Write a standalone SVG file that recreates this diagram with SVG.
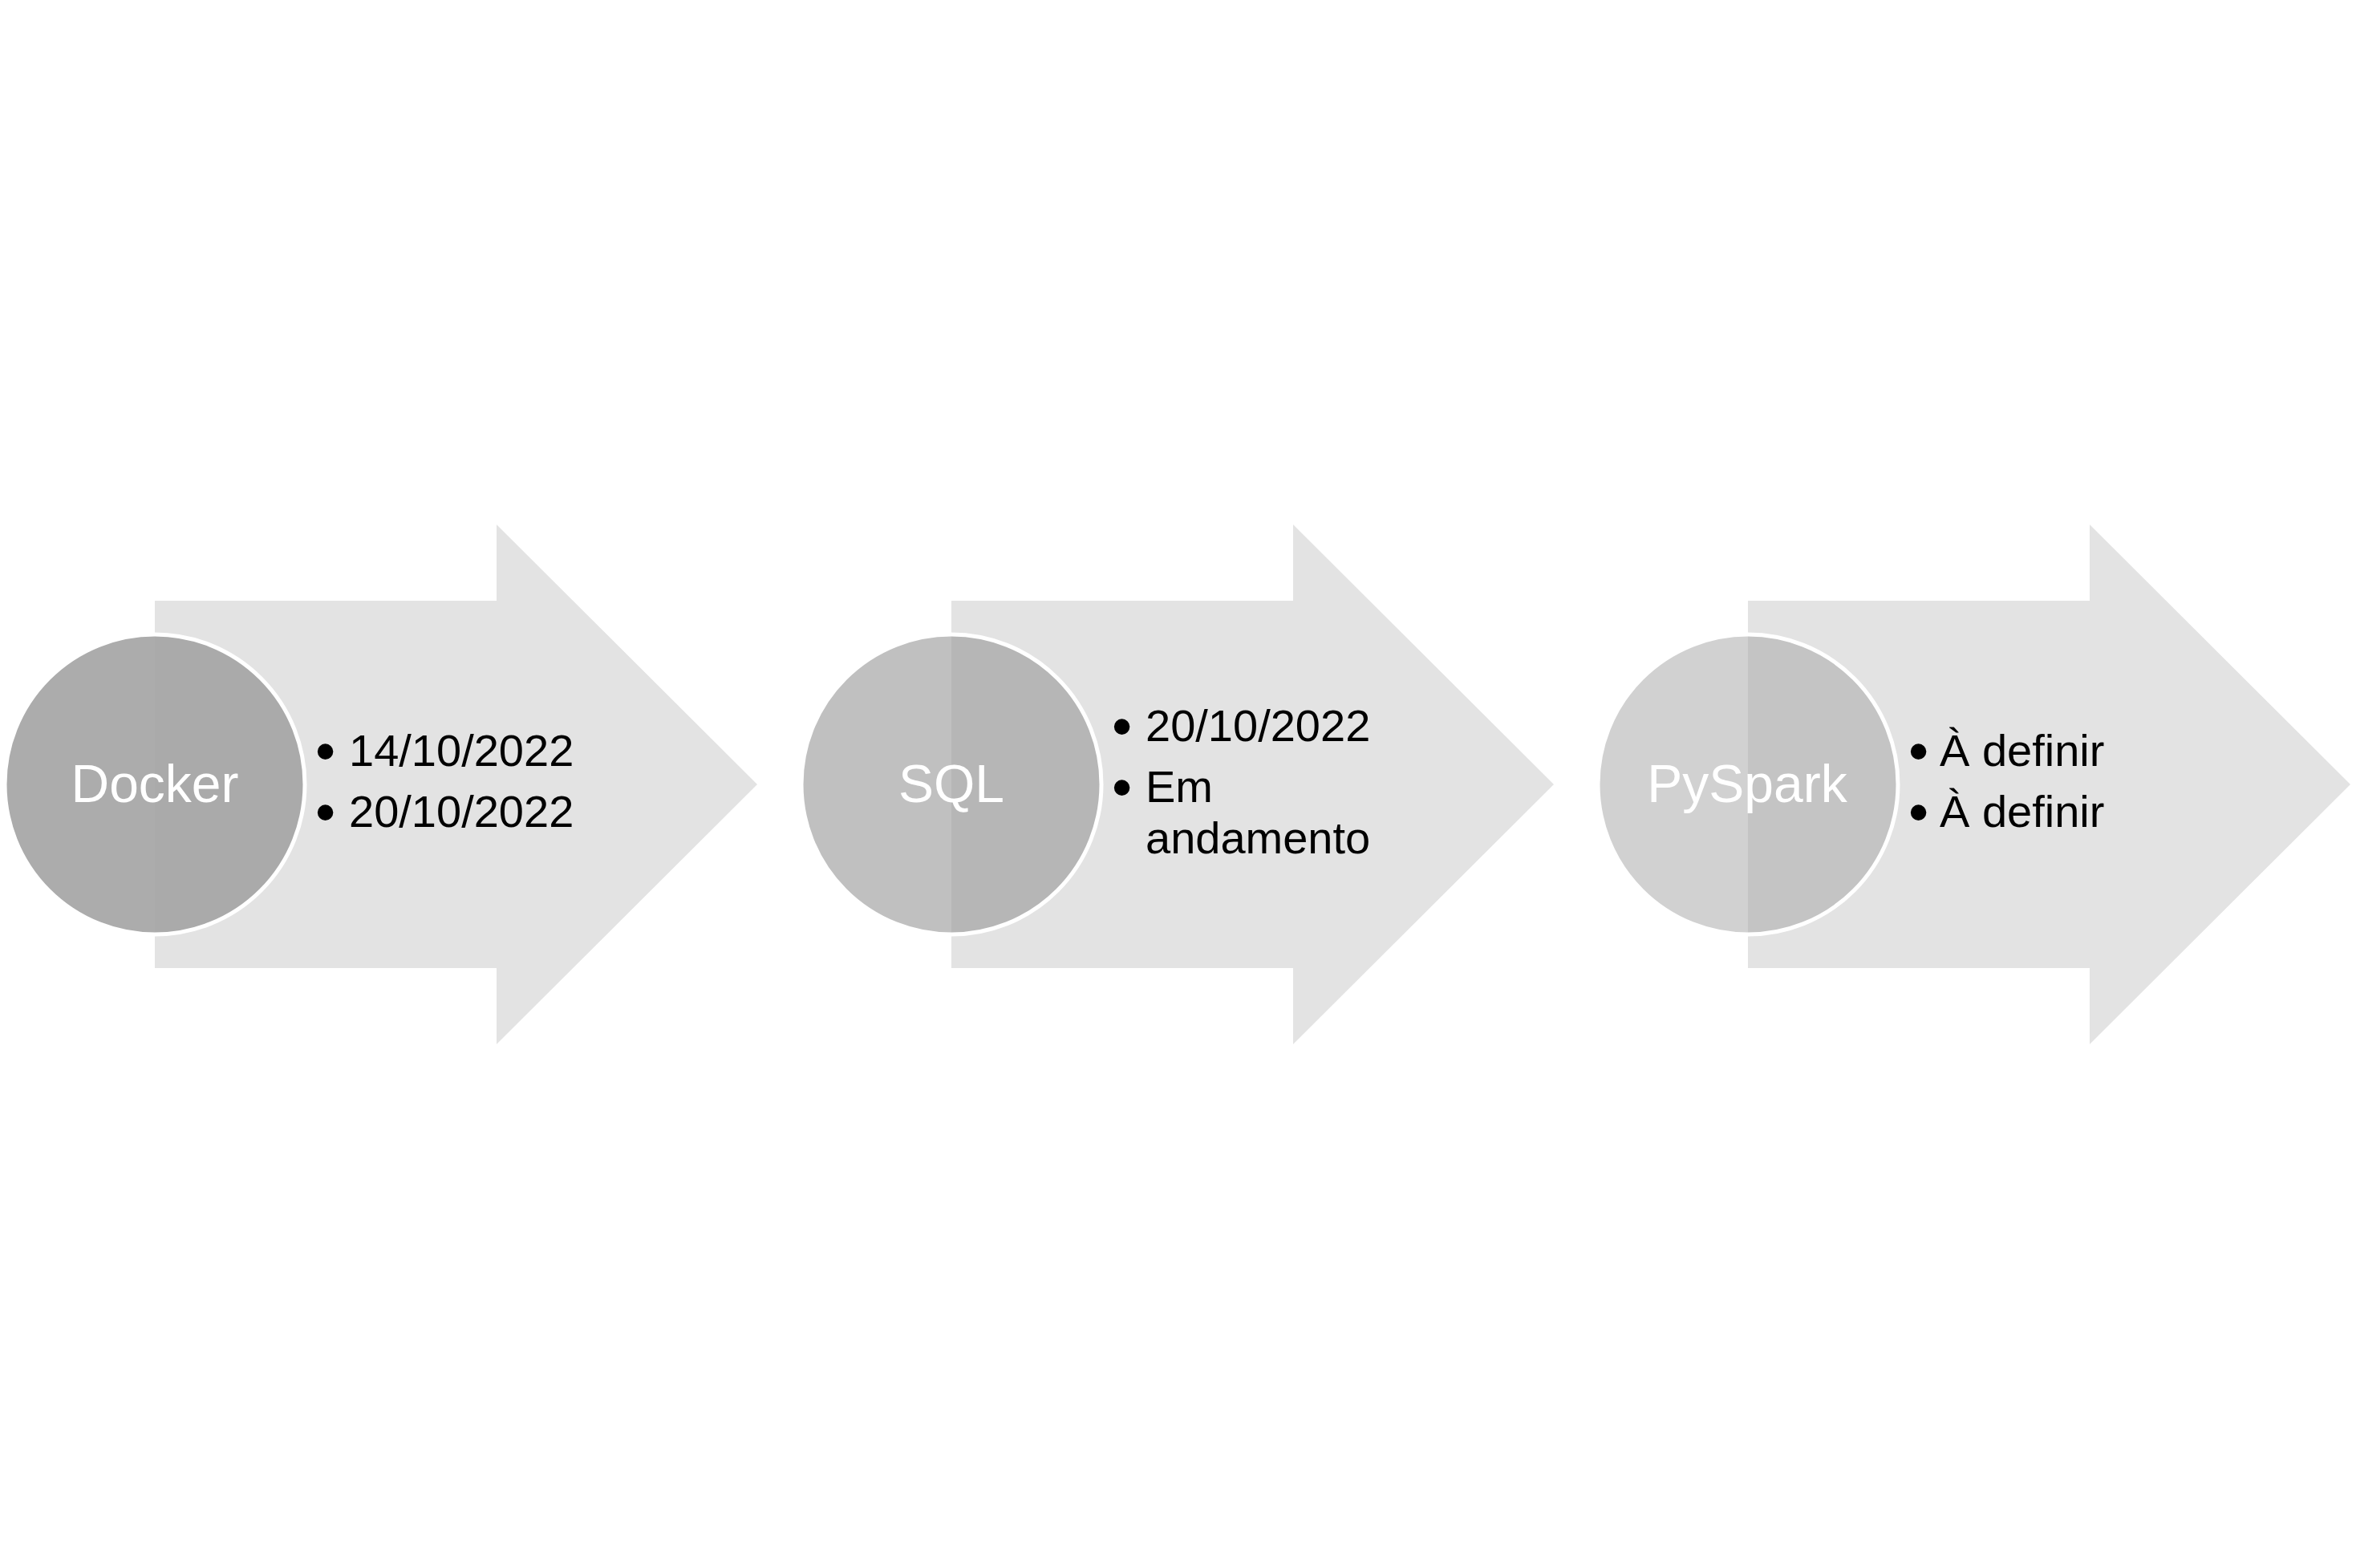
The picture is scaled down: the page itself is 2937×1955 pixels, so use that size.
<svg xmlns="http://www.w3.org/2000/svg" width="2937" height="1955" viewBox="0 0 2937 1955">
<style>
.arrow{fill:#e3e3e3;stroke:none}
.circ{stroke:#ffffff;stroke-width:5}
.lbl{font-family:"Liberation Sans",Arial,sans-serif;font-size:66px;fill:#ffffff;text-anchor:middle}
.bt{font-family:"Liberation Sans",Arial,sans-serif;font-size:56px;fill:#000000}
.bl{font-size:72px}
</style>
<rect width="2937" height="1955" fill="#ffffff"/>
<g id="step-docker">
<polygon class="arrow" points="193,749 619,749 619,654 944,978 619,1302 619,1207 193,1207"/>
<circle class="circ" cx="193" cy="978" r="187" fill="#a3a3a3" fill-opacity="0.9"/>
<text class="lbl" x="193" y="1000">Docker</text>
<text class="bt" y="955"><tspan class="bl" x="393" y="961">•</tspan><tspan x="435" y="955">14/10/2022</tspan></text>
<text class="bt" y="1031"><tspan class="bl" x="393" y="1037">•</tspan><tspan x="435" y="1031">20/10/2022</tspan></text>
</g>
<g id="step-sql">
<polygon class="arrow" points="1186,749 1612,749 1612,654 1937,978 1612,1302 1612,1207 1186,1207"/>
<circle class="circ" cx="1186" cy="978" r="187" fill="#9d9d9d" fill-opacity="0.643"/>
<text class="lbl" x="1186" y="1000">SQL</text>
<text class="bt" y="924"><tspan class="bl" x="1386" y="930">•</tspan><tspan x="1428" y="924">20/10/2022</tspan></text>
<text class="bt" y="1000"><tspan class="bl" x="1386" y="1006">•</tspan><tspan x="1428" y="1000">Em</tspan><tspan x="1428" y="1064">andamento</tspan></text>
</g>
<g id="step-pyspark">
<polygon class="arrow" points="2179,749 2605,749 2605,654 2930,978 2605,1302 2605,1207 2179,1207"/>
<circle class="circ" cx="2179" cy="978" r="187" fill="#a9a9a9" fill-opacity="0.536"/>
<text class="lbl" x="2178" y="1000">PySpark</text>
<text class="bt" y="955"><tspan class="bl" x="2379" y="961">•</tspan><tspan x="2418" y="955">À definir</tspan></text>
<text class="bt" y="1031"><tspan class="bl" x="2379" y="1037">•</tspan><tspan x="2418" y="1031">À definir</tspan></text>
</g>
<g id="connectors"></g>
</svg>
